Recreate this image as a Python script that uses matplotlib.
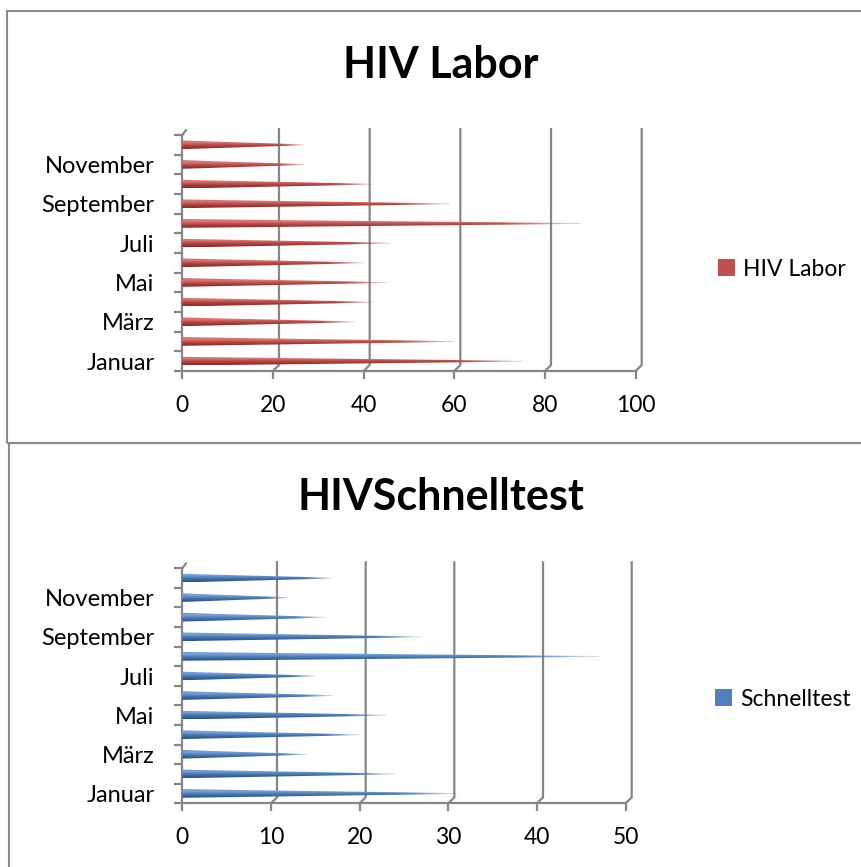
import numpy as np
import matplotlib
matplotlib.use('Agg')
from matplotlib import pyplot as plt
from matplotlib.patches import Rectangle, Polygon, Patch
from matplotlib.colors import to_rgb

plt.rcParams['font.family'] = ['Lato', 'DejaVu Sans']

months = ["Januar", "Februar", "März", "April", "Mai", "Juni", "Juli",
          "August", "September", "Oktober", "November", "Dezember"]
labor = [75, 60, 38, 42, 45, 40, 46, 88, 59, 42, 27, 27]
schnell = [31, 24, 14, 20, 23, 17, 15, 47, 27, 16, 12, 17]

W, H = 862, 867
fig = plt.figure(figsize=(W / 100, H / 100), dpi=100)
GRID = "#868686"


def px(x0, y0, x1, y1):
    # pixel box -> figure fraction [left, bottom, width, height]
    return [x0 / W, 1 - y1 / H, (x1 - x0) / W, (y1 - y0) / H]


def cone_chart(rect, values, xmax, step, base, light, dark, title, legend_label, title_y, leg_y, leg_x):
    ax = fig.add_axes(px(*rect))
    n = len(values)
    ax.set_xlim(0, xmax)
    ax.set_ylim(-0.5, n - 0.5)
    for s in ax.spines.values():
        s.set_visible(False)

    ux = ax.bbox.width / xmax
    uy = ax.bbox.height / n
    dx, dy = 6 / ux, 6 / uy
    top = n - 0.5
    bot = -0.5

    # back wall gridlines with floor diagonals
    for xv in np.arange(0, xmax + step / 2, step):
        xs = [xv, xv + dx, xv + dx]
        ys = [bot, bot + dy, top + dy]
        if xv == 0:
            xs, ys = [xv, xv], [bot, top]
            ax.plot([xv, xv + dx * 0.6], [top, top + dy * 0.8], color=GRID, lw=1.6, clip_on=False)
        ax.plot(xs, ys, color=GRID, lw=1.6, clip_on=False, solid_joinstyle='miter')
    ax.plot([0, xmax], [bot, bot], color=GRID, lw=1.6, clip_on=False)

    # cones
    hh = 0.22
    prof = np.linspace(0, 1, 64)
    cb, cl, cd = np.array(to_rgb(base)), np.array(to_rgb(light)), np.array(to_rgb(dark))
    col = np.zeros((64, 3))
    for i, t in enumerate(prof):
        # t=0 bottom edge, t=1 top edge
        if t < 0.5:
            col[i] = cd + (cb - cd) * (t / 0.5) ** 1.5
        elif t < 0.8:
            col[i] = cb + (cl - cb) * ((t - 0.5) / 0.3)
        else:
            col[i] = cl + (cb - cl) * ((t - 0.8) / 0.2)
    for i, v in enumerate(values):
        xs = np.linspace(0, 1, 200)
        alpha = np.clip((1 - xs) / 0.2, 0.15, 1.0) ** 0.6
        img = np.zeros((64, 200, 4))
        img[:, :, :3] = col[:, None, :]
        img[:, :, 3] = alpha[None, :]
        poly = Polygon([[0, i - hh], [v, i - 0.02], [v, i + 0.02], [0, i + hh]], closed=True,
                       facecolor='none', edgecolor='none')
        ax.add_patch(poly)
        im = ax.imshow(img, extent=[0, v, i - hh, i + hh], origin='lower',
                       aspect='auto', interpolation='bilinear', zorder=3)
        im.set_clip_path(poly)
    ax.set_xlim(0, xmax)
    ax.set_ylim(-0.5, n - 0.5)

    ax.set_xticks(np.arange(0, xmax + step / 2, step))
    ax.set_xticklabels([str(int(t)) for t in np.arange(0, xmax + step / 2, step)])
    ax.tick_params(axis='x', length=6, width=1.6, color=GRID, pad=11, labelsize=16.5)
    ax.set_yticks(np.arange(0, n, 2))
    ax.set_yticklabels(months[::2])
    ax.tick_params(axis='y', length=0, pad=20, labelsize=17)
    ax.set_yticks(np.arange(-0.5, n, 1), minor=True)
    ax.tick_params(axis='y', which='minor', length=6, width=1.6, color=GRID)

    fig.text(441 / W, 1 - title_y / H, title, ha='center', va='center',
             fontsize=31, fontweight='bold')
    ax.legend(handles=[Patch(facecolor=base, edgecolor='none', label=legend_label)],
              loc='center left', bbox_to_anchor=(leg_x / W, 1 - leg_y / H),
              bbox_transform=fig.transFigure, frameon=False, fontsize=16.5,
              handlelength=0.75, handleheight=0.75, handletextpad=0.35,
              borderaxespad=0, borderpad=0)
    return ax


# chart frames
fig.patches.append(Rectangle((7 / W, 1 - 443 / H), 1, 432 / H, transform=fig.transFigure,
                             facecolor='none', edgecolor="#8a8a8a", lw=1.5))
fig.patches.append(Rectangle((9 / W, -0.1), 1, 1.1 - 443 / H, transform=fig.transFigure,
                             facecolor='none', edgecolor="#8a8a8a", lw=1.5))

cone_chart((182.3, 135, 635.7, 371), labor, 100, 20, "#c0504d", "#e07f7b", "#8e2b29",
           "HIV Labor", "HIV Labor", 65, 269, 718)
cone_chart((182.3, 568.3, 625.7, 803.3), schnell, 50, 10, "#4f81bd", "#7fa6da", "#2c5587",
           "HIVSchnelltest", "Schnelltest", 497, 699, 715)

plt.savefig("out.png", dpi=100)
